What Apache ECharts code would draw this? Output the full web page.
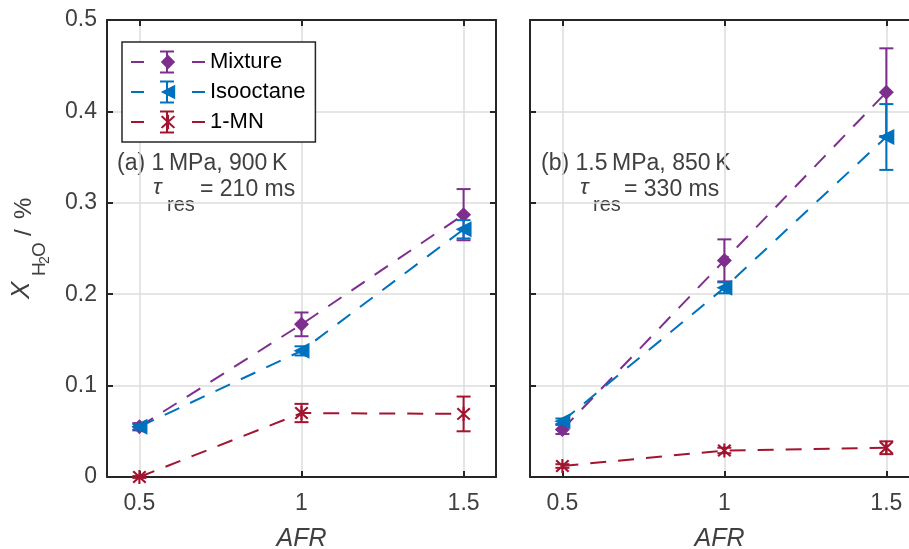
<!DOCTYPE html>
<html>
<head>
<meta charset="utf-8">
<script src="https://cdn.jsdelivr.net/npm/echarts@6/dist/echarts.min.js"></script>
<style>
html,body{margin:0;padding:0;background:#fff;}
#c{width:909px;height:549px;}
</style>
</head>
<body>
<div id="c"></div>
<script>
// ---- data ----
const afr = [0.5, 1, 1.5];
const xTicks = [0.5, 1, 1.5];
const yTicks = [0, 0.1, 0.2, 0.3, 0.4, 0.5];
const seriesNames = ['Mixture', 'Isooctane', '1-MN'];
// panel (a) 1 MPa, 900 K
const mixA = [0.055, 0.167, 0.287];
const mixAErr = [0.004, 0.013, 0.028];
const isoA = [0.055, 0.138, 0.271];
const isoAErr = [0.003, 0.005, 0.010];
const mnA = [0.000, 0.070, 0.069];
const mnAErr = [0.001, 0.010, 0.019];
// panel (b) 1.5 MPa, 850 K
const mixB = [0.052, 0.237, 0.421];
const mixBErr = [0.005, 0.023, 0.048];
const isoB = [0.061, 0.207, 0.372];
const isoBErr = [0.003, 0.006, 0.036];
const mnB = [0.012, 0.029, 0.032];
const mnBErr = [0.002, 0.003, 0.007];

const colors = ['#7E2F8E', '#0072BD', '#A2142F'];
const axisColor = '#262626';
const labelColor = '#404040';
const font = '"Liberation Sans", Arial, Helvetica, sans-serif';
const asterisk = 'path://M4.3 0 L5.7 0 L5.7 10 L4.3 10 Z M1.4 0.4 L9.6 8.6 L8.6 9.6 L0.4 1.4 Z M8.6 0.4 L9.6 1.4 L1.4 9.6 L0.4 8.6 Z';
const symbols = ['diamond', 'triangle', asterisk];
const symbolRot = [0, 90, 0];
const symbolSizes = [15, 16, 14];

const chart = echarts.init(document.getElementById('c'), null, {renderer: 'canvas'});

function xAxisDef(gi, pos, xmax) {
  const main = pos === 'bottom';
  return {
    type: 'value', gridIndex: gi, position: pos, min: 0.4, max: xmax,
    axisLine: {show: true, onZero: false, lineStyle: {color: axisColor, width: 2}},
    axisTick: {show: true, inside: true, length: 6, customValues: xTicks, lineStyle: {color: axisColor, width: 2}},
    axisLabel: {show: main, customValues: xTicks, fontSize: 23, color: labelColor, fontFamily: font, margin: 15,
      formatter: v => String(v)},
    splitLine: {show: main, lineStyle: {color: '#dcdcdc', width: 1.5}},
    name: main ? 'AFR' : '', nameLocation: 'middle', nameGap: 50,
    nameTextStyle: {fontSize: 25, fontStyle: 'italic', color: labelColor, fontFamily: font}
  };
}
function yAxisDef(gi, pos, labels, showLine) {
  const main = pos === 'left';
  return {
    type: 'value', gridIndex: gi, position: pos, min: 0, max: 0.5, interval: 0.1,
    axisLine: {show: showLine, onZero: false, lineStyle: {color: axisColor, width: 2}},
    axisTick: {show: showLine, inside: true, length: 6, lineStyle: {color: axisColor, width: 2}},
    axisLabel: {show: labels, fontSize: 23, color: labelColor, fontFamily: font, margin: 10,
      formatter: v => String(Math.round(v * 10) / 10)},
    splitLine: {show: main, lineStyle: {color: '#dcdcdc', width: 1.5}}
  };
}

const panels = [
  {vals: [mixA, isoA, mnA], errs: [mixAErr, isoAErr, mnAErr]},
  {vals: [mixB, isoB, mnB], errs: [mixBErr, isoBErr, mnBErr]}
];

const series = [];
panels.forEach((p, gi) => {
  p.vals.forEach((vals, si) => {
    const errs = p.errs[si];
    series.push({
      type: 'custom', xAxisIndex: gi * 2, yAxisIndex: gi * 2, z: 3 + si,
      silent: true,
      data: afr.map((x, i) => [x, vals[i] - errs[i], vals[i] + errs[i]]),
      renderItem: function (params, api) {
        const x = api.value(0);
        const lo = api.coord([x, api.value(1)]);
        const hi = api.coord([x, api.value(2)]);
        const hw = 7;
        const st = {stroke: colors[si], lineWidth: 2, fill: null};
        return {type: 'group', children: [
          {type: 'line', shape: {x1: lo[0], y1: lo[1], x2: hi[0], y2: hi[1]}, style: st},
          {type: 'line', shape: {x1: lo[0] - hw, y1: lo[1], x2: lo[0] + hw, y2: lo[1]}, style: st},
          {type: 'line', shape: {x1: hi[0] - hw, y1: hi[1], x2: hi[0] + hw, y2: hi[1]}, style: st}
        ]};
      }
    });
    series.push({
      name: seriesNames[si], type: 'line', xAxisIndex: gi * 2, yAxisIndex: gi * 2, z: 3 + si,
      data: afr.map((x, i) => [x, vals[i]]),
      symbol: symbols[si], symbolSize: symbolSizes[si], symbolRotate: symbolRot[si],
      showAllSymbol: true,
      itemStyle: {color: colors[si], borderWidth: 0, opacity: 1},
      lineStyle: {color: colors[si], width: 2, type: [16, 12]},
      emphasis: {disabled: true}, animation: false
    });
  });
});

// legend error-bar glyphs (legend decoration only)
const legendGlyphs = [];
[62, 92, 122].forEach((cy, i) => {
  const st = {stroke: colors[i], lineWidth: 2};
  legendGlyphs.push(
    {type: 'line', z: 100, shape: {x1: 167, y1: cy - 10.5, x2: 167, y2: cy + 10.5}, style: st},
    {type: 'line', z: 100, shape: {x1: 160, y1: cy - 10.5, x2: 174, y2: cy - 10.5}, style: st},
    {type: 'line', z: 100, shape: {x1: 160, y1: cy + 10.5, x2: 174, y2: cy + 10.5}, style: st}
  );
});

const option = {
  backgroundColor: '#ffffff',
  animation: false,
  grid: [
    {left: 107, top: 20, width: 389, height: 457, containLabel: false, outerBoundsMode: 'none'},
    {left: 530, top: 20, right: 0, height: 457, containLabel: false, outerBoundsMode: 'none'}
  ],
  xAxis: [xAxisDef(0, 'bottom', 1.6), xAxisDef(0, 'top', 1.6), xAxisDef(1, 'bottom', 1.57), xAxisDef(1, 'top', 1.57)],
  yAxis: [yAxisDef(0, 'left', true, true), yAxisDef(0, 'right', false, true), yAxisDef(1, 'left', false, true), yAxisDef(1, 'right', false, false)],
  legend: {
    data: seriesNames, orient: 'vertical', left: 122, top: 42,
    padding: [9, 10, 9, 8], itemGap: 8, itemWidth: 74, itemHeight: 18,
    backgroundColor: '#ffffff', borderColor: axisColor, borderWidth: 1.5, borderRadius: 0,
    textStyle: {fontSize: 22, color: '#000', fontFamily: font, lineHeight: 22},
    lineStyle: {type: [13, 48], width: 2},
    selectedMode: false
  },
  graphic: [
    // y-axis label, rotated
    {type: 'group', x: 0, y: 300, rotation: Math.PI / 2, children: [
      {type: 'text', x: 1, y: 22, style: {text: 'X', font: 'italic 26px ' + font, fill: labelColor, verticalAlign: 'middle', align: 'left'}},
      {type: 'text', x: 24, y: 40, style: {text: 'H', font: '19px ' + font, fill: labelColor, verticalAlign: 'middle', align: 'left'}},
      {type: 'text', x: 36, y: 45, style: {text: '2', font: '14px ' + font, fill: labelColor, verticalAlign: 'middle', align: 'left'}},
      {type: 'text', x: 43, y: 40, style: {text: 'O', font: '19px ' + font, fill: labelColor, verticalAlign: 'middle', align: 'left'}},
      {type: 'text', x: 64, y: 24, style: {text: '/', font: '24px ' + font, fill: labelColor, verticalAlign: 'middle', align: 'left'}},
      {type: 'text', x: 81, y: 24, style: {text: '%', font: '24px ' + font, fill: labelColor, verticalAlign: 'middle', align: 'left'}}
    ]},
    // panel (a) annotation
    {type: 'text', left: 117, top: 152, style: {text: '(a) 1\u2009MPa, 900\u2009K', font: '23px ' + font, fill: labelColor}},
    {type: 'text', left: 153, top: 176, style: {text: '\u03c4', font: 'italic 23px ' + font, fill: labelColor}},
    {type: 'text', left: 167, top: 195, style: {text: 'res', font: '20px ' + font, fill: labelColor}},
    {type: 'text', left: 200, top: 178, style: {text: '= 210 ms', font: '23px ' + font, fill: labelColor}},
    // panel (b) annotation
    {type: 'text', left: 541, top: 152, style: {text: '(b) 1.5\u2009MPa, 850\u2009K', font: '23px ' + font, fill: labelColor}},
    {type: 'text', left: 580, top: 176, style: {text: '\u03c4', font: 'italic 23px ' + font, fill: labelColor}},
    {type: 'text', left: 593, top: 195, style: {text: 'res', font: '20px ' + font, fill: labelColor}},
    {type: 'text', left: 624, top: 178, style: {text: '= 330 ms', font: '23px ' + font, fill: labelColor}}
  ].concat(legendGlyphs),
  series: series
};
chart.setOption(option);
</script>
</body>
</html>
